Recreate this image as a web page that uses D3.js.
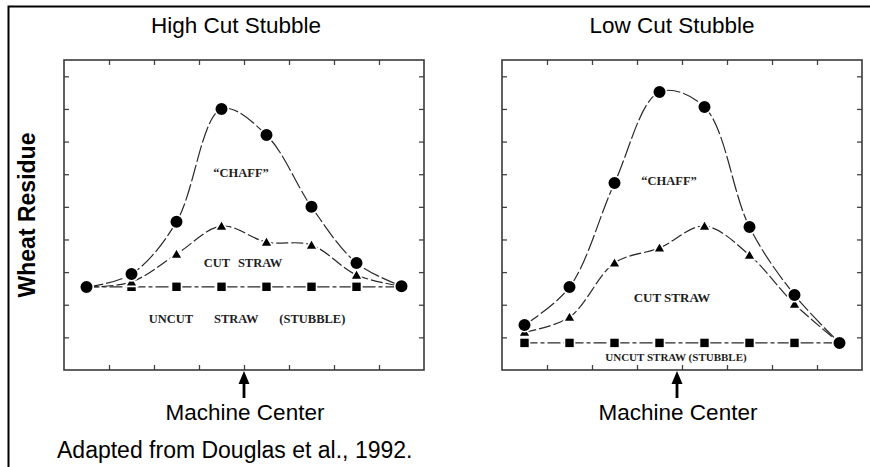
<!DOCTYPE html>
<html lang="en">
<head>
    <meta charset="UTF-8">
    <title>Wheat residue distribution</title>
    <style>
        body { margin: 0; background: #fff; }
        svg { display: block; }
        .sans { font-family: "Liberation Sans", Arial, sans-serif; fill: #000; }
        .note { font-family: "Liberation Serif", "Times New Roman", serif; font-weight: bold; fill: #1e1e1e; }
        .series { fill: none; stroke: #2a2a2a; stroke-width: 1.2; }
    </style>
</head>
<body>
    <svg id="chart" width="870" height="467"></svg>

    <script src="https://d3js.org/d3.v7.min.js"></script>
    <script>
        // positions across the swath (no labels in the original, just 8 sample spots)
        const positions = ["1", "2", "3", "4", "5", "6", "7", "8"];
        const xTicks = [1, 2, 3, 4, 5, 6, 7];
        const yTicks = [1, 2, 3, 4, 5, 6, 7, 8, 9];

        // high cut stubble
        const highChaff = [2.54, 2.94, 4.54, 8.0, 7.2, 5.0, 3.28, 2.57];
        const highCut = [2.54, 2.7, 3.55, 4.41, 3.92, 3.83, 2.91, 2.57];
        const highUncut = [2.55, 2.55, 2.55, 2.55, 2.55, 2.55, 2.55, 2.55];

        // low cut stubble
        const lowChaff = [1.38, 2.54, 5.73, 8.52, 8.06, 4.38, 2.30, 0.83];
        const lowCut = [1.16, 1.62, 3.28, 3.74, 4.41, 3.52, 2.02, 0.83];
        const lowUncut = [0.83, 0.83, 0.83, 0.83, 0.83, 0.83, 0.83, 0.83];

        const svg = d3.select("#chart");
        const W = 360, H = 310, plotTop = 60;

        // outer frame (only top and left edges show in the original crop)
        svg.append("path")
            .attr("d", "M8.5,470V6.5H870")
            .attr("fill", "none")
            .attr("stroke", "#000")
            .attr("stroke-width", 2);

        // y axis label
        svg.append("text")
            .attr("class", "sans")
            .attr("transform", "translate(35,215) rotate(-90)")
            .attr("text-anchor", "middle")
            .style("font-size", "23px")
            .style("font-weight", "bold")
            .text("Wheat Residue");

        svg.append("text")
            .attr("class", "sans")
            .attr("x", 57).attr("y", 458)
            .style("font-size", "23px")
            .text("Adapted from Douglas et al., 1992.");

        const panels = [
            {
                title: "High Cut Stubble", left: 64, titleX: 236, arrowX: 244,
                chaff: highChaff, cut: highCut, uncut: highUncut,
                notes: [
                    { text: "\u201CCHAFF\u201D", x: 177, y: 117, size: 12.5 },
                    { text: "CUT  STRAW", x: 179, y: 207, size: 12.5, ws: 5 },
                    { text: "UNCUT STRAW (STUBBLE)", x: 183, y: 263, size: 12.5, ws: 18 }
                ]
            },
            {
                title: "Low Cut Stubble", left: 502, titleX: 672, arrowX: 677,
                chaff: lowChaff, cut: lowCut, uncut: lowUncut,
                notes: [
                    { text: "\u201CCHAFF\u201D", x: 167, y: 125, size: 12.5 },
                    { text: "CUT STRAW", x: 170, y: 242, size: 13, ws: 0 },
                    { text: "UNCUT STRAW (STUBBLE)", x: 174, y: 301, size: 11, ws: 0 }
                ]
            }
        ];

        const x = d3.scalePoint().domain(positions).range([0, W]).padding(0.5);
        const xFrame = d3.scaleLinear().domain([0, 8]).range([0, W]);
        const y = d3.scaleLinear().domain([0, 9.5]).range([H, 0]);

        const line = d3.line()
            .x((d, i) => x(positions[i]))
            .y(d => y(d))
            .curve(d3.curveCatmullRom.alpha(0.5));

        const straight = d3.line()
            .x((d, i) => x(positions[i]))
            .y(d => y(d));

        panels.forEach(p => {
            svg.append("text")
                .attr("class", "sans")
                .attr("x", p.titleX).attr("y", 33)
                .attr("text-anchor", "middle")
                .style("font-size", "22.5px")
                .text(p.title);

            const g = svg.append("g").attr("transform", `translate(${p.left},${plotTop})`);

            // inward ticks on all four sides
            const axes = [
                { ax: d3.axisBottom(xFrame).tickValues(xTicks), t: `translate(0,${H})` },
                { ax: d3.axisTop(xFrame).tickValues(xTicks), t: "translate(0,0)" },
                { ax: d3.axisLeft(y).tickValues(yTicks), t: "translate(0,0)" },
                { ax: d3.axisRight(y).tickValues(yTicks), t: `translate(${W},0)` }
            ];
            axes.forEach(a => {
                const ga = g.append("g").attr("transform", a.t)
                    .call(a.ax.tickSize(-5).tickSizeOuter(0).tickFormat(""));
                ga.select(".domain").remove();
                ga.selectAll("line").attr("stroke", "#444").attr("stroke-width", 1.3);
            });

            g.append("rect")
                .attr("width", W).attr("height", H)
                .attr("fill", "none")
                .attr("stroke", "#3a3a3a")
                .attr("stroke-width", 1.6);

            g.append("path").datum(p.uncut).attr("class", "series")
                .attr("d", straight).attr("stroke-dasharray", "13,3,4,3");
            g.append("path").datum(p.cut).attr("class", "series")
                .attr("d", line).attr("stroke-dasharray", "12,3");
            g.append("path").datum(p.chaff).attr("class", "series")
                .attr("d", line).attr("stroke-dasharray", "17,3");

            // markers with a white halo, so the lines stop short of them
            g.selectAll(".sq").data(p.uncut).enter().append("rect")
                .attr("x", (d, i) => x(positions[i]) - 5)
                .attr("y", d => y(d) - 5)
                .attr("width", 10).attr("height", 10)
                .attr("fill", "#000").attr("stroke", "#fff").attr("stroke-width", 1.6);

            g.selectAll(".tri").data(p.cut).enter().append("path")
                .attr("d", d3.symbol(d3.symbolTriangle, 62))
                .attr("transform", (d, i) => `translate(${x(positions[i])},${y(d) + 1})`)
                .attr("fill", "#000").attr("stroke", "#fff").attr("stroke-width", 1.6);

            g.selectAll(".dot").data(p.chaff).enter().append("circle")
                .attr("cx", (d, i) => x(positions[i]))
                .attr("cy", d => y(d))
                .attr("r", 6.8)
                .attr("fill", "#000").attr("stroke", "#fff").attr("stroke-width", 1.6);

            p.notes.forEach(n => {
                g.append("text")
                    .attr("class", "note")
                    .attr("x", n.x).attr("y", n.y)
                    .attr("text-anchor", "middle")
                    .style("font-size", n.size + "px")
                    .style("word-spacing", (n.ws || 0) + "px")
                    .text(n.text);
            });

            // machine center arrow
            svg.append("line")
                .attr("x1", p.arrowX).attr("x2", p.arrowX)
                .attr("y1", 398).attr("y2", 380)
                .attr("stroke", "#000").attr("stroke-width", 2.8);
            svg.append("path")
                .attr("d", `M${p.arrowX},371L${p.arrowX + 5.5},384L${p.arrowX - 5.5},384Z`)
                .attr("fill", "#000");
            svg.append("text")
                .attr("class", "sans")
                .attr("x", p.arrowX + 1).attr("y", 420)
                .attr("text-anchor", "middle")
                .style("font-size", "22.5px")
                .text("Machine Center");
        });
    </script>
</body>
</html>
